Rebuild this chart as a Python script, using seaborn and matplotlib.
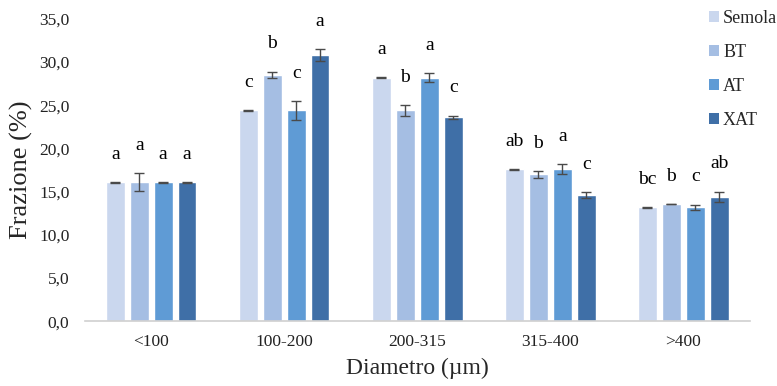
import matplotlib
matplotlib.use("Agg")
import matplotlib.pyplot as plt
from matplotlib.patches import Patch
import pandas as pd
import seaborn as sns

# Data
categories = ["<100", "100-200", "200-315", "315-400", ">400"]
series = ["Semola", "BT", "AT", "XAT"]
means = {
    "Semola": [16.1, 24.4, 28.2, 17.6, 13.2],
    "BT":     [16.1, 28.5, 24.4, 17.0, 13.6],
    "AT":     [16.1, 24.4, 28.2, 17.6, 13.2],
    "XAT":    [16.1, 30.8, 23.6, 14.6, 14.4],
}
errors = {
    "Semola": [0.05, 0.05, 0.05, 0.05, 0.05],
    "BT":     [1.0, 0.4, 0.6, 0.4, 0.0],
    "AT":     [0.05, 1.1, 0.5, 0.6, 0.3],
    "XAT":    [0.05, 0.7, 0.2, 0.3, 0.6],
}
letters = {
    "Semola": ["a", "c", "a", "ab", "bc"],
    "BT":     ["a", "b", "b", "b", "b"],
    "AT":     ["a", "c", "a", "a", "c"],
    "XAT":    ["a", "a", "c", "c", "ab"],
}
colors = ["#CAD7EE", "#A5BEE3", "#5F9BD5", "#3F6FA7"]

rows = []
for s in series:
    for c, v in zip(categories, means[s]):
        rows.append({"Diametro": c, "Serie": s, "Frazione": v})
df = pd.DataFrame(rows)

sns.set_theme(style="white")
plt.rcParams["font.family"] = ["Liberation Serif", "DejaVu Serif"]

fig = plt.figure(figsize=(7.77, 3.86), dpi=100)
ax = fig.add_axes([0.109, 0.168, 0.856, 0.783])

sns.barplot(data=df, x="Diametro", y="Frazione", hue="Serie",
            order=categories, hue_order=series, palette=colors,
            saturation=1, errorbar=None, width=0.72, gap=0.22,
            legend=False, ax=ax)

for s, cont in zip(series, ax.containers):
    for bar, v, e, lab in zip(cont, means[s], errors[s], letters[s]):
        xc = bar.get_x() + bar.get_width() / 2
        ax.errorbar(xc, v, yerr=e, fmt="none", ecolor="#4a4a4a",
                    elinewidth=1.0, capsize=3.5, capthick=1.0)
        ax.text(xc, v + e + 3.2, lab, ha="center", va="center",
                fontsize=14, color="black")

ax.set_ylim(0, 35)
ax.set_xlim(-0.5, 4.5)
ax.set_yticks(range(0, 36, 5))
ax.set_yticklabels([f"{t:.1f}".replace(".", ",") for t in range(0, 36, 5)])
ax.tick_params(axis="both", labelsize=12.5, length=0, colors="#222222")
ax.tick_params(axis="x", pad=9)
ax.tick_params(axis="y", pad=11)
for side in ["top", "right", "left"]:
    ax.spines[side].set_visible(False)
ax.spines["bottom"].set_color("#D0D0D0")
ax.spines["bottom"].set_linewidth(1.2)

ax.set_xlabel("Diametro (µm)", fontsize=17, labelpad=6)
ax.set_ylabel("Frazione (%)", fontsize=19)
ax.yaxis.set_label_coords(-0.078, 0.5)

handles = [Patch(facecolor=c, edgecolor="none") for c in colors]
fig.legend(handles, series, loc="upper left", bbox_to_anchor=(0.912, 0.975),
           frameon=False, fontsize=13, handlelength=0.55, handleheight=0.55,
           handletextpad=0.25, labelspacing=0.95, borderpad=0,
           borderaxespad=0)

fig.savefig("out.png", dpi=100)
